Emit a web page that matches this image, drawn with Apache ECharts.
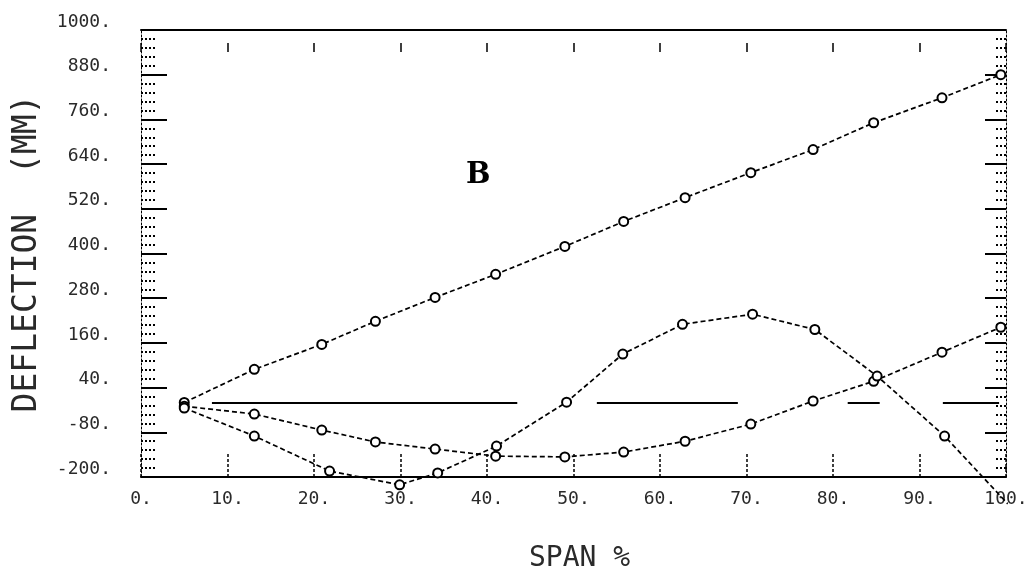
<!DOCTYPE html>
<html>
<head>
<meta charset="utf-8">
<script src="https://cdn.jsdelivr.net/npm/echarts@6/dist/echarts.min.js"></script>
<style>
  html, body { margin: 0; padding: 0; background: #fff; }
  #chart { width: 1027px; height: 572px; }
</style>
</head>
<body>
<div id="chart"></div>
<script>
// stations along the span (%) for the straight and sagging curves
const SPAN = [5, 13.1, 20.9, 27.1, 34.0, 41.0, 49.0, 55.8, 62.9, 70.5, 77.7, 84.7, 92.6, 99.4];
// stations for the humped curve
const SPAN_HUMP = [5, 13.1, 21.8, 29.9, 34.3, 41.1, 49.2, 55.7, 62.6, 70.7, 77.9, 85.1, 92.9, 100.2];

// deflection (mm)
const DEFL_LINEAR = [0, 89, 156, 218, 282, 344, 419, 486, 550, 617, 679, 751, 818, 880];
const DEFL_SAG = [-10, -31, -74, -106, -125, -144, -146, -133, -104, -58, 4, 57, 135, 202];
const DEFL_HUMP = [-15, -90, -184, -221, -189, -117, 1, 130, 210, 237, 196, 71, -90, -272];

// broken reference line at zero deflection
const ZERO_SEG_START = [8.2, 52.7, 81.7, 92.7];
const ZERO_SEG_END = [43.5, 69.0, 85.4, 99.2];

const Y_MIN = -200;
const Y_MAX = 1000;
const Y_STEP = 120;

const MONO = '"DejaVu Sans Mono", "Liberation Mono", monospace';
const INK = "#000";
const TEXT = "#2a2a2a";

function pairs(xs, ys) {
  return xs.map((x, i) => [x, ys[i]]);
}

function curve(xs, ys) {
  return {
    type: "line",
    data: pairs(xs, ys),
    symbol: "emptyCircle",
    symbolSize: 9,
    clip: false,
    silent: true,
    itemStyle: { color: INK, borderWidth: 1.4 },
    lineStyle: { color: INK, width: 1.7, type: [5, 3] },
    z: 3,
  };
}

const linear = curve(SPAN, DEFL_LINEAR);
linear.markLine = {
  symbol: "none",
  silent: true,
  label: { show: false },
  lineStyle: { color: INK, width: 2, type: "solid" },
  data: ZERO_SEG_START.map((s, i) => [{ coord: [s, 0] }, { coord: [ZERO_SEG_END[i], 0] }]),
};

// last hump point runs below the frame, drawn without a marker
const hump = curve(SPAN_HUMP, DEFL_HUMP);
hump.data = hump.data.map((p, i, all) => (i === all.length - 1 ? { value: p, symbol: "none" } : p));

function yAxis(position, majorLen, minorLen) {
  return {
    type: "value",
    position,
    min: Y_MIN,
    max: Y_MAX,
    interval: Y_STEP,
    axisLine: { show: true, onZero: false, lineStyle: { color: INK, width: 1, type: [2, 2] } },
    axisTick: { show: true, inside: true, length: majorLen, lineStyle: { color: INK, width: 2 } },
    minorTick: { show: true, splitNumber: 5, length: minorLen, lineStyle: { color: INK, width: 2, type: [2, 2] } },
    splitLine: { show: false },
    axisLabel: {
      show: position === "left",
      formatter: (v) => v + ".",
      fontFamily: MONO,
      fontSize: 18,
      color: TEXT,
      margin: 30,
      verticalAlign: "bottom",
      lineHeight: 16,
    },
  };
}

const option = {
  animation: false,
  backgroundColor: "#fff",
  grid: { left: 141, right: 21, top: 30, bottom: 95, outerBoundsMode: "none", containLabel: false },
  xAxis: [
    {
      type: "value",
      position: "bottom",
      min: 0,
      max: 100,
      interval: 10,
      axisLine: { onZero: false, lineStyle: { color: INK, width: 2 } },
      axisTick: { inside: true, length: 24, lineStyle: { color: INK, width: 1.5, type: [3, 2] } },
      splitLine: { show: false },
      axisLabel: {
        formatter: (v) => v + ".",
        fontFamily: MONO,
        fontSize: 18,
        color: TEXT,
        margin: 13,
      },
      name: "SPAN %",
      nameLocation: "middle",
      nameGap: 68,
      nameTextStyle: { fontFamily: MONO, fontSize: 28, color: TEXT, padding: [0, 0, 0, 12] },
    },
    {
      type: "value",
      position: "top",
      min: 0,
      max: 100,
      interval: 10,
      axisLine: { onZero: false, lineStyle: { color: INK, width: 2 } },
      axisTick: { inside: true, length: 22, lineStyle: { color: INK, width: 1.5, type: [0, 13, 9, 100] } },
      splitLine: { show: false },
      axisLabel: { show: false },
    },
  ],
  yAxis: [
    Object.assign(yAxis("left", 26, 15), {
      name: "DEFLECTION  (MM)",
      nameLocation: "middle",
      nameGap: 97,
      nameTextStyle: { fontFamily: MONO, fontSize: 33, color: TEXT },
    }),
    yAxis("right", 21, 12),
  ],
  graphic: [
    {
      type: "text",
      left: 466,
      top: 161,
      style: { text: "B", font: 'bold 29px "DejaVu Serif", serif', fill: INK },
    },
  ],
  series: [linear, curve(SPAN, DEFL_SAG), hump],
};

const chart = echarts.init(document.getElementById("chart"));
chart.setOption(option);
</script>
</body>
</html>
